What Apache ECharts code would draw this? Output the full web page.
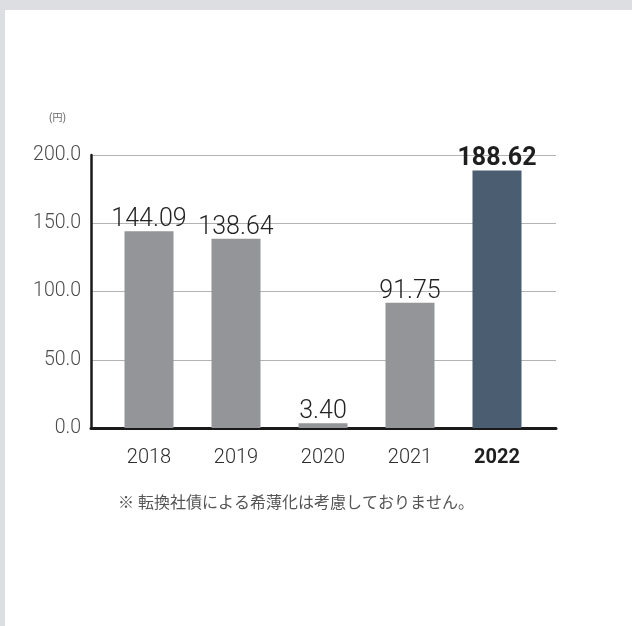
<!DOCTYPE html>
<html><head><meta charset="utf-8">
<script src="https://cdn.jsdelivr.net/npm/echarts@6/dist/echarts.min.js"></script>
<style>
html,body{margin:0;padding:0;background:#dcdee1;width:632px;height:626px;overflow:hidden;}
#c{position:absolute;left:5px;top:10px;width:627px;height:616px;background:#ffffff;}
</style></head>
<body><div id="c"></div>
<script>
var categories = ['2018', '2019', '2020', '2021', '2022'];
var values = [144.09, 138.64, 3.40, 91.75, 188.62];
var yTicks = [0, 50, 100, 150, 200];
var unitLabel = '(円)';
var footnote = '※ 転換社債による希薄化は考慮しておりません。';

var FONT = 'Roboto, "Noto Sans CJK JP", sans-serif';
var lastIdx = categories.length - 1;

var chart = echarts.init(document.getElementById('c'), null, {renderer: 'canvas'});
chart.setOption({
  animation: false,
  textStyle: {fontFamily: FONT},
  grid: [
    {left: 86, right: 76, top: 145, bottom: 198},
    {left: 100.5, right: 91.5, top: 145, bottom: 198}
  ],
  xAxis: [
    {gridIndex: 0, type: 'category', data: categories, show: true,
     axisLine: {show: true, lineStyle: {color: '#1a1a1a', width: 3}},
     axisTick: {show: false}, axisLabel: {show: false}, splitLine: {show: false}},
    {gridIndex: 1, type: 'category',
     data: categories.map(function (c, i) {
       return i === lastIdx ? {value: c, textStyle: {fontWeight: 'bold', color: '#1e1e1e'}} : c;
     }),
     axisLine: {show: false}, axisTick: {show: false},
     axisLabel: {margin: 20, fontSize: 20, fontWeight: 300, color: '#2e2e2e', fontFamily: FONT}}
  ],
  yAxis: [
    {gridIndex: 0, type: 'value', min: yTicks[0], max: yTicks[yTicks.length - 1], interval: yTicks[1] - yTicks[0],
     axisLine: {show: true, lineStyle: {color: '#1a1a1a', width: 2.5}},
     axisTick: {show: false},
     axisLabel: {margin: 10, fontSize: 19.5, fontWeight: 300, color: '#4a4a4a', fontFamily: FONT,
                 formatter: function (v) { return v.toFixed(1); }},
     splitLine: {show: true, lineStyle: {color: '#b3b3b3', width: 1}}},
    {gridIndex: 1, type: 'value', min: yTicks[0], max: yTicks[yTicks.length - 1], interval: yTicks[1] - yTicks[0],
     show: false, splitLine: {show: false}}
  ],
  series: [{
    type: 'bar', xAxisIndex: 1, yAxisIndex: 1, barWidth: 49,
    data: values.map(function (v, i) {
      return i === lastIdx ? {
        value: v, itemStyle: {color: '#4a5d71'},
        label: {fontWeight: 'bold', color: '#1e1e1e'}
      } : v;
    }),
    itemStyle: {color: '#939598'},
    label: {show: true, position: 'top', distance: -1, fontSize: 25, fontWeight: 300, color: '#222222', fontFamily: FONT,
            formatter: function (p) { return p.value.toFixed(2); }}
  }],
  graphic: [
    {type: 'text', left: 44, top: 104, style: {text: unitLabel, fontSize: 10, fill: '#666666', fontFamily: FONT}},
    {type: 'text', x: 291, y: 494, style: {text: footnote, fontSize: 16, fill: '#555555', fontFamily: FONT, textAlign: 'center', textVerticalAlign: 'middle'}}
  ]
});
</script></body></html>
